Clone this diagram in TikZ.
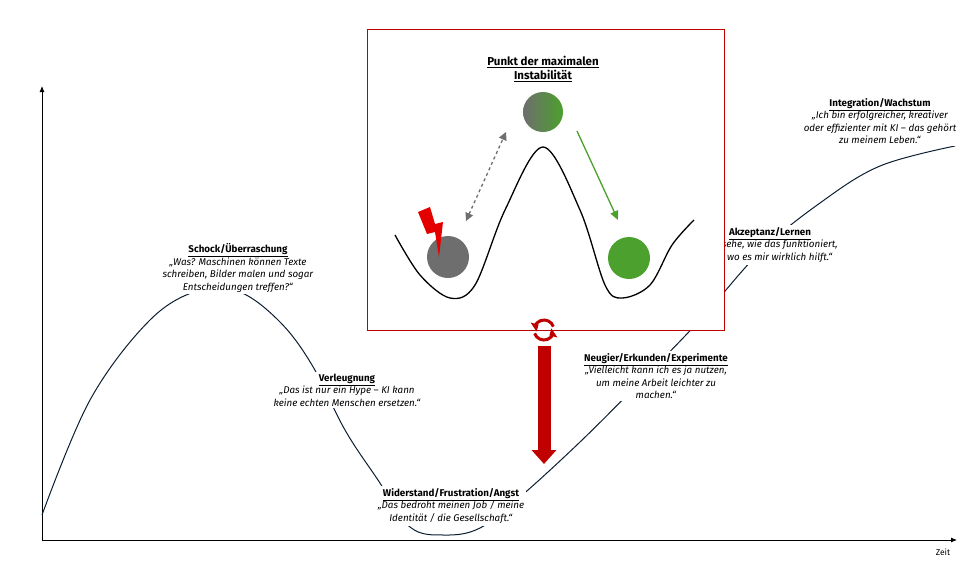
\documentclass[tikz,border=0pt]{standalone}
\usepackage{fontspec}
\setmainfont{Fira Sans}
\usetikzlibrary{arrows.meta}
\definecolor{cgreen}{RGB}{76,160,45}
\definecolor{cgray}{RGB}{110,110,110}
\definecolor{cred}{RGB}{192,0,0}
\definecolor{curve}{RGB}{12,30,50}
\tikzset{
  lbl/.style={align=center,fill=white,inner sep=2pt,font=\fontsize{9.8}{12.5}\selectfont},
}
\newcommand{\ttl}[1]{\textbf{\underline{#1}}}
\begin{document}
\begin{tikzpicture}[x=1pt,y=-1pt]
\useasboundingbox (0,0) rectangle (980,568);
% axes
\coordinate (o) at (42,540);
\coordinate (yt) at (42,86);
\coordinate (xt) at (957,540);
\draw[-{Latex[length=6pt,width=5pt]},line width=0.8pt] (o) -- (yt);
\draw[-{Latex[length=6pt,width=5pt]},line width=0.8pt] (o) -- (xt);
\node[font=\fontsize{8.5}{9}\selectfont] (zeit) at (943,552) {Zeit};
% main curve
\draw[curve,line width=1pt] plot[smooth,tension=0.6] coordinates {(42,515) (90,400) (150,320) (200,290) (240,292) (280,322) (312,365) (345,430) (378,480) (410,527) (445,535) (480,528) (520,497) (580,442) (640,382) (700,320) (760,252) (820,203) (880,166) (955,146)};
% labels
\node[lbl] (schock) at (238,268) {\ttl{Schock/Überraschung}\\\textit{„Was? Maschinen können Texte}\\\textit{schreiben, Bilder malen und sogar}\\\textit{Entscheidungen treffen?“}};
\node[lbl] (verl) at (347,390) {\ttl{Verleugnung}\\\textit{„Das ist nur ein Hype – KI kann}\\\textit{keine echten Menschen ersetzen.“}};
\node[lbl] (wid) at (451,506) {\ttl{Widerstand/Frustration/Angst}\\\textit{„Das bedroht meinen Job / meine}\\\textit{Identität / die Gesellschaft.“}};
\node[lbl] (neu) at (656,376) {\ttl{Neugier/Erkunden/Experimente}\\\textit{„Vielleicht kann ich es ja nutzen,}\\\textit{um meine Arbeit leichter zu}\\\textit{machen.“}};
\node[lbl] (akz) at (770,245) {\ttl{Akzeptanz/Lernen}\\\textit{„Ich sehe, wie das funktioniert,}\\\textit{und wo es mir wirklich hilft.“}};
\node[lbl] (integ) at (880,121) {\ttl{Integration/Wachstum}\\\textit{„Ich bin erfolgreicher, kreativer}\\\textit{oder effizienter mit KI – das gehört}\\\textit{zu meinem Leben.“}};
% inset box
\node[draw=red!75!black,line width=0.6pt,fill=white,minimum width=357pt,minimum height=301pt,inner sep=0pt] (box) at (545.5,179.5) {};
\node[align=center,font=\fontsize{11.5}{13.5}\selectfont] (punkt) at (543,69) {\ttl{Punkt der maximalen}\\\ttl{Instabilität}};
\draw[line width=1.3pt] plot[smooth,tension=0.55] coordinates {(395,235) (420,275) (450,298) (475,285) (505,210) (543,147) (580,210) (605,285) (622,298) (650,285) (672,245) (694,220)};
\node[circle,fill=cgray,minimum size=42pt,inner sep=0pt] (gball) at (448,257) {};
\node[circle,fill=cgreen,minimum size=42pt,inner sep=0pt] (grball) at (629,258) {};
\node[circle,left color=cgray,right color=cgreen,minimum size=40pt,inner sep=0pt] (tball) at (543,112) {};
\fill[red!90!black] (418,212) -- (430,207) -- (435,224) -- (443,222) -- (439,257) -- (435,232) -- (427,234) -- cycle;
\coordinate (da) at (466,221);
\coordinate (db) at (506,132);
\draw[cgray,dashed,line width=1.3pt,{Triangle[length=8pt,width=8pt]}-{Triangle[length=8pt,width=8pt]}] (da) -- (db);
\coordinate (ga) at (577,131);
\coordinate (gb) at (618,220);
\draw[cgreen,line width=1.3pt,-{Triangle[length=9pt,width=8pt]}] (ga) -- (gb);
% cycle icon
\coordinate (cyc) at (544,330);
\draw[cred,line width=3pt] ([shift={(20:10pt)}]cyc) arc[start angle=20,end angle=160,radius=10pt];
\draw[cred,line width=3pt] ([shift={(200:10pt)}]cyc) arc[start angle=200,end angle=340,radius=10pt];
\fill[cred] ([shift={(160:10pt)}]cyc) ++(-4,-4) -- ++(8,2) -- ++(-2,7) -- cycle;
\fill[cred] ([shift={(340:10pt)}]cyc) ++(4,4) -- ++(-8,-2) -- ++(2,-7) -- cycle;
% big red arrow
\coordinate (ra) at (544,346);
\coordinate (rb) at (544,464);
\draw[cred,line width=13pt,-{Triangle[length=14pt,width=24pt]}] (ra) -- (rb);
\end{tikzpicture}
\end{document}
